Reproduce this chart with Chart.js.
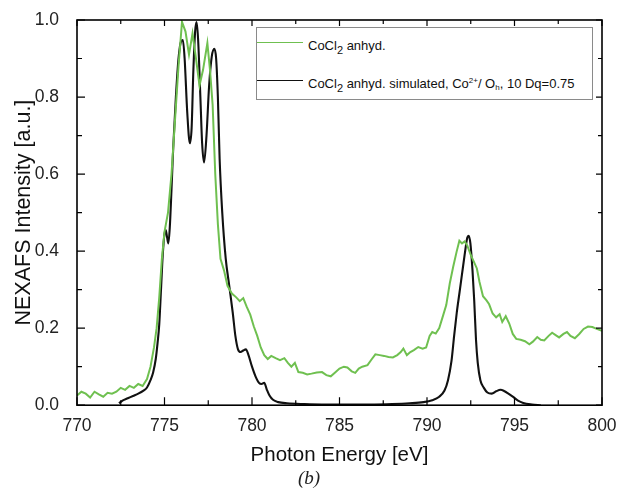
<!DOCTYPE html>
<html>
<head>
<meta charset="utf-8">
<script src="https://cdn.jsdelivr.net/npm/chart.js@4/dist/chart.umd.min.js"></script>
<style>
  html, body { margin: 0; padding: 0; background: #fff; }
  #wrap { position: relative; width: 618px; height: 497px; }
  #c { position: absolute; left: 0; top: 0; }
  #legend { position: absolute; left: 256px; top: 27px; width: 335px; height: 71px;
            border: 1.5px solid #8a8a8a; background: #fff; font-family: "Liberation Sans", Arial, sans-serif;
            font-size: 13px; color: #111; }
  .lg-line { position: absolute; left: 0; width: 46px; height: 0; border-top: 1.8px solid; }
  .lg-text { position: absolute; left: 51px; line-height: 15px; white-space: nowrap; }
  .sub { font-size: 11px; position: relative; top: 4px; }
  .sup { font-size: 8px; position: relative; top: -5px; }
  .subh { font-size: 8px; position: relative; top: 2px; }
</style>
</head>
<body>
<div id="wrap">
  <canvas id="c" width="618" height="497"></canvas>
  <div id="legend">
    <div class="lg-line" style="top:14px;border-color:#6fc050"></div>
    <div class="lg-text" style="top:10px">CoCl<span class="sub">2</span> anhyd.</div>
    <div class="lg-line" style="top:52px;border-color:#111"></div>
    <div class="lg-text" style="top:48px">CoCl<span class="sub">2</span> anhyd. simulated, Co<span class="sup">2+</span>/ O<span class="subh">h</span>, 10 Dq=0.75</div>
  </div>
</div>
<script>
// ---- data ----
const expEnergy = [770.0,770.25,770.5,770.75,771.0,771.25,771.5,771.75,772.0,772.25,772.5,772.75,773.0,773.25,773.5,773.75,774.0,774.2,774.4,774.55,774.7,774.85,775.0,775.2,775.4,775.6,775.8,776.0,776.2,776.4,776.6,776.8,777.0,777.2,777.45,777.6,777.75,777.9,778.05,778.2,778.4,778.6,778.85,779.1,779.3,779.5,779.7,779.9,780.1,780.3,780.5,780.7,780.9,781.1,781.35,781.6,781.85,782.05,782.25,782.45,782.65,782.9,783.15,783.4,783.7,784.0,784.25,784.5,784.75,785.0,785.25,785.45,785.7,785.9,786.1,786.3,786.6,786.85,787.05,787.3,787.55,787.8,788.05,788.3,788.5,788.65,788.85,789.05,789.25,789.5,789.75,789.95,790.15,790.3,790.5,790.7,790.9,791.1,791.3,791.5,791.7,791.85,792.0,792.15,792.3,792.5,792.7,792.85,793.0,793.2,793.4,793.55,793.75,793.95,794.15,794.3,794.5,794.7,794.9,795.1,795.35,795.6,795.85,796.05,796.3,796.5,796.7,796.95,797.15,797.35,797.55,797.8,798.0,798.2,798.45,798.7,798.95,799.2,799.45,799.7,800.0];
const expIntensity = [0.025,0.035,0.03,0.02,0.035,0.028,0.022,0.032,0.03,0.035,0.045,0.04,0.05,0.045,0.055,0.05,0.068,0.10,0.15,0.2,0.28,0.38,0.45,0.5,0.6,0.74,0.88,0.995,0.97,0.91,0.965,0.9,0.83,0.87,0.94,0.87,0.78,0.6,0.47,0.38,0.35,0.31,0.29,0.28,0.27,0.278,0.255,0.235,0.205,0.18,0.15,0.13,0.12,0.128,0.122,0.117,0.122,0.11,0.1,0.11,0.086,0.084,0.08,0.082,0.085,0.086,0.078,0.075,0.085,0.095,0.1,0.098,0.088,0.084,0.095,0.1,0.104,0.12,0.132,0.13,0.128,0.125,0.124,0.13,0.138,0.147,0.13,0.138,0.143,0.151,0.147,0.15,0.18,0.19,0.186,0.2,0.23,0.26,0.316,0.36,0.40,0.427,0.42,0.425,0.415,0.39,0.37,0.355,0.32,0.283,0.272,0.262,0.238,0.228,0.236,0.216,0.231,0.212,0.185,0.172,0.17,0.166,0.158,0.165,0.177,0.17,0.168,0.18,0.188,0.182,0.176,0.185,0.19,0.18,0.174,0.185,0.198,0.204,0.203,0.198,0.193];

const simEnergy = [772.4,772.6,772.9,773.2,773.5,773.8,774.0,774.2,774.35,774.5,774.6,774.7,774.8,774.9,775.0,775.07,775.15,775.22,775.3,775.4,775.5,775.65,775.8,775.95,776.05,776.15,776.3,776.45,776.55,776.65,776.75,776.83,776.92,777.05,777.15,777.26,777.4,777.55,777.7,777.85,777.95,778.05,778.15,778.3,778.5,778.7,778.9,779.05,779.2,779.35,779.5,779.65,779.8,780.0,780.2,780.4,780.55,780.7,780.85,781.0,781.2,781.5,782.0,783.0,784.0,785.0,786.0,787.0,788.0,789.0,789.8,790.3,790.7,791.0,791.2,791.4,791.55,791.7,791.85,792.0,792.15,792.3,792.38,792.48,792.6,792.7,792.8,792.9,793.05,793.25,793.45,793.7,793.95,794.2,794.4,794.65,794.9,795.2,795.5,796.0,796.5];
const simIntensity = [0.005,0.012,0.018,0.024,0.03,0.038,0.046,0.065,0.085,0.12,0.16,0.21,0.3,0.39,0.445,0.455,0.435,0.42,0.46,0.56,0.67,0.8,0.9,0.945,0.948,0.9,0.76,0.68,0.72,0.87,0.97,0.995,0.95,0.8,0.68,0.63,0.7,0.83,0.905,0.925,0.9,0.8,0.64,0.5,0.38,0.31,0.24,0.18,0.145,0.138,0.142,0.145,0.13,0.1,0.075,0.058,0.055,0.058,0.04,0.025,0.014,0.008,0.005,0.003,0.002,0.002,0.002,0.002,0.003,0.005,0.008,0.013,0.022,0.038,0.065,0.115,0.18,0.24,0.29,0.34,0.39,0.435,0.44,0.42,0.35,0.27,0.17,0.11,0.065,0.045,0.033,0.03,0.036,0.04,0.037,0.03,0.022,0.012,0.006,0.002,0.0];

const xMajorTicks = [770,775,780,785,790,795,800];
const xMinorTicks = [772.5,777.5,782.5,787.5,792.5,797.5];
const yMajorTicks = [0,0.2,0.4,0.6,0.8,1.0];
const yMinorTicks = [0.1,0.3,0.5,0.7,0.9];

const seriesNames = ['CoCl2 anhyd.', 'CoCl2 anhyd. simulated, Co2+/ Oh, 10 Dq=0.75'];

// ---- chart ----
const toXY = (xs, ys) => xs.map((x, i) => ({x, y: ys[i]}));

const frameTicks = {
  id: 'frameTicks',
  afterDatasetsDraw(chart) {
    const {ctx, chartArea: {left, right, top, bottom}, scales: {x, y}} = chart;
    ctx.save();
    ctx.strokeStyle = '#000';
    ctx.lineWidth = 1.2;
    ctx.beginPath();
    const xt = (v, major) => {
      const p = x.getPixelForValue(v);
      ctx.moveTo(p, bottom); ctx.lineTo(p, bottom - (major ? 8 : 5));
      ctx.moveTo(p, top); ctx.lineTo(p, top + (major ? 6 : 4));
    };
    const yt = (v, major) => {
      const p = y.getPixelForValue(v);
      ctx.moveTo(left, p); ctx.lineTo(left + (major ? 8 : 5), p);
      ctx.moveTo(right, p); ctx.lineTo(right - (major ? 6 : 4), p);
    };
    xMajorTicks.forEach(v => xt(v, true));
    xMinorTicks.forEach(v => xt(v, false));
    yMajorTicks.forEach(v => yt(v, true));
    yMinorTicks.forEach(v => yt(v, false));
    ctx.stroke();
    ctx.lineWidth = 1.6;
    ctx.strokeRect(left, top, right - left, bottom - top);
    ctx.restore();
  }
};

new Chart(document.getElementById('c'), {
  type: 'line',
  data: {
    datasets: [
      { label: seriesNames[0], data: toXY(expEnergy, expIntensity), borderColor: '#6fc050',
        borderWidth: 2, pointRadius: 0, tension: 0, fill: false },
      { label: seriesNames[1], data: toXY(simEnergy, simIntensity), borderColor: '#111111',
        borderWidth: 2.1, pointRadius: 0, cubicInterpolationMode: 'monotone', fill: false }
    ]
  },
  options: {
    responsive: false,
    animation: false,
    devicePixelRatio: 1,
    layout: { padding: { left: 0, top: 20, right: 0, bottom: 0 } },
    plugins: {
      legend: { display: false },
      tooltip: { enabled: false },
      title: {
        display: true, position: 'bottom', text: '(b)', color: '#222',
        font: { family: '"Liberation Serif", "Times New Roman", serif', size: 19, style: 'italic', weight: 'normal' },
        padding: { top: 0, bottom: 7 }
      }
    },
    scales: {
      x: {
        type: 'linear', min: 770, max: 800,
        afterBuildTicks: s => { s.ticks = xMajorTicks.map(v => ({value: v})); },
        afterFit: s => { s.height = 62; s.paddingLeft = 0; s.paddingRight = 16; },
        grid: { display: false },
        border: { display: false },
        ticks: { color: '#222', padding: 2, maxRotation: 0,
                 font: { family: '"Liberation Sans", Arial, sans-serif', size: 17.5 } },
        title: { display: true, text: 'Photon Energy [eV]', color: '#111',
                 font: { family: '"Liberation Sans", Arial, sans-serif', size: 20.5 },
                 padding: { top: 0, bottom: 0 } }
      },
      y: {
        min: 0, max: 1,
        afterBuildTicks: s => { s.ticks = yMajorTicks.map(v => ({value: v})); },
        afterFit: s => { s.width = 77; s.paddingTop = 0; s.paddingBottom = 0; },
        grid: { display: false },
        border: { display: false },
        ticks: { color: '#222', padding: 10, callback: v => Number(v).toFixed(1),
                 font: { family: '"Liberation Sans", Arial, sans-serif', size: 17.5 } },
        title: { display: true, text: 'NEXAFS Intensity [a.u.]', color: '#111',
                 font: { family: '"Liberation Sans", Arial, sans-serif', size: 21.5 },
                 padding: { top: 11, bottom: 0 } }
      }
    }
  },
  plugins: [frameTicks]
});
</script>
</body>
</html>
